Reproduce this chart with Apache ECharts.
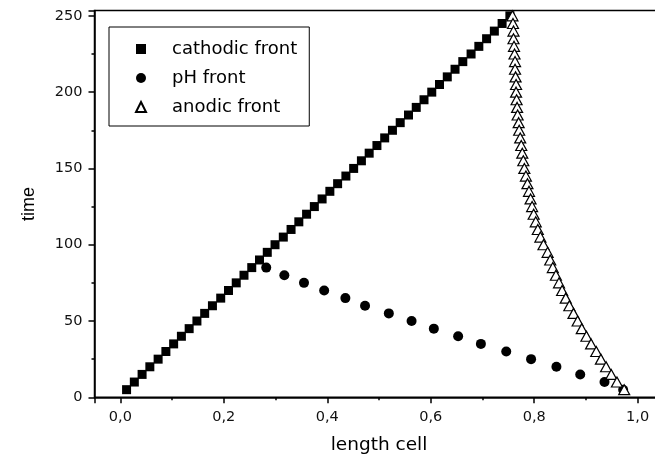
<!DOCTYPE html>
<html>
<head>
<meta charset="utf-8">
<script src="https://cdn.jsdelivr.net/npm/echarts@6/dist/echarts.min.js"></script>
<style>
  html, body { margin: 0; padding: 0; background: #fff; }
  #chart { width: 655px; height: 458px; }
</style>
</head>
<body>
<div id="chart"></div>
<script>
var myChart = echarts.init(document.getElementById('chart'));

// time values (shared by cathodic and anodic fronts)
var timeFull = [250,245,240,235,230,225,220,215,210,205,200,195,190,185,180,175,170,165,160,155,
                150,145,140,135,130,125,120,115,110,105,100,95,90,85,80,75,70,65,60,55,
                50,45,40,35,30,25,20,15,10,5];
var cathodicX = [0.753,0.738,0.723,0.708,0.693,0.678,0.662,0.647,0.632,0.617,0.602,0.587,0.572,0.557,0.541,0.526,0.511,0.496,0.481,0.466,
                 0.451,0.436,0.420,0.405,0.390,0.375,0.360,0.345,0.330,0.315,0.299,0.284,0.269,0.254,0.239,0.224,0.209,0.194,0.178,0.163,
                 0.148,0.133,0.118,0.103,0.088,0.073,0.057,0.042,0.027,0.012];
var anodicX = [0.758,0.759,0.760,0.760,0.761,0.762,0.763,0.763,0.764,0.765,0.765,0.766,0.767,0.768,0.770,0.771,0.773,0.775,0.777,0.779,
               0.781,0.784,0.787,0.790,0.793,0.796,0.799,0.803,0.807,0.812,0.818,0.826,0.831,0.836,0.842,0.848,0.854,0.861,0.868,0.876,
               0.884,0.892,0.901,0.910,0.920,0.929,0.939,0.949,0.960,0.974];
// pH front
var phTime = [85,80,75,70,65,60,55,50,45,40,35,30,25,20,15,10,5];
var phX = [0.282,0.317,0.355,0.394,0.435,0.473,0.519,0.563,0.606,0.653,0.697,0.746,0.794,0.843,0.889,0.936,0.972];

function pairs(xs, ys) {
    var out = [];
    for (var i = 0; i < xs.length; i++) out.push([xs[i], ys[i]]);
    return out;
}

var fontFam = '"Liberation Sans", Arial, sans-serif';
var wideFam = '"DejaVu Sans", sans-serif';

option = {
    backgroundColor: '#fff',
    animation: false,
    textStyle: { fontFamily: wideFam },
    grid: {
        left: 94.5, top: 10.5, width: 569, height: 386.8,
        outerBoundsMode: 'none', containLabel: false,
        show: true, borderColor: '#000', borderWidth: 1.5, backgroundColor: 'transparent'
    },
    legend: {
        orient: 'vertical',
        left: 109, top: 27,
        borderColor: '#000', borderWidth: 1,
        padding: [12, 12, 9, 26],
        itemWidth: 10, itemHeight: 10, itemGap: 9,
        textStyle: { fontSize: 18, color: '#000', fontFamily: wideFam, lineHeight: 20, padding: [0, 0, 0, 21] },
        data: [
            { name: 'cathodic front', icon: 'rect' },
            { name: 'pH front', icon: 'circle' },
            { name: 'anodic front', icon: 'triangle' }
        ]
    },
    xAxis: {
        type: 'value',
        min: -0.05, max: 1.05, splitNumber: 5,
        name: 'length cell', nameLocation: 'middle', nameGap: 38,
        nameTextStyle: { fontSize: 18.5, color: '#000', fontFamily: wideFam },
        axisLine: { show: true, lineStyle: { color: '#000', width: 1.5 } },
        axisTick: { show: true, inside: false, length: 6, lineStyle: { color: '#000', width: 1.5 } },
        minorTick: { show: true, splitNumber: 2, length: 3, lineStyle: { color: '#000', width: 1.5 } },
        splitLine: { show: false },
        axisLabel: {
            fontSize: 14.5, color: '#111', margin: 12, showMinLabel: false, showMaxLabel: false,
            fontFamily: wideFam,
            formatter: function (v) { return v.toFixed(1).replace('.', ','); }
        }
    },
    yAxis: {
        type: 'value',
        min: 0, max: 253.5, interval: 50,
        name: 'time', nameLocation: 'middle', nameGap: 56, nameRotate: 90,
        nameTextStyle: { fontSize: 18, color: '#000', fontFamily: fontFam },
        axisLine: { show: true, onZero: false, lineStyle: { color: '#000', width: 1.5 } },
        axisTick: { show: true, inside: false, length: 6, lineStyle: { color: '#000', width: 1.5 } },
        minorTick: { show: true, splitNumber: 2, length: 3, lineStyle: { color: '#000', width: 1.5 } },
        splitLine: { show: false },
        axisLabel: { fontSize: 14.5, color: '#111', margin: 12, showMaxLabel: false, fontFamily: wideFam }
    },
    series: [
        {
            name: 'cathodic front',
            type: 'scatter',
            symbol: 'rect',
            symbolSize: 9,
            itemStyle: { color: '#000', opacity: 1 },
            data: pairs(cathodicX, timeFull)
        },
        {
            name: 'pH front',
            type: 'scatter',
            symbol: 'circle',
            symbolSize: 10,
            itemStyle: { color: '#000', opacity: 1 },
            data: pairs(phX, phTime)
        },
        {
            name: 'anodic front',
            type: 'scatter',
            symbol: 'triangle',
            symbolSize: [11, 10],
            itemStyle: { color: '#fff', borderColor: '#000', borderWidth: 1.2, opacity: 1 },
            data: pairs(anodicX, timeFull)
        }
    ]
};
myChart.setOption(option);
</script>
</body>
</html>
